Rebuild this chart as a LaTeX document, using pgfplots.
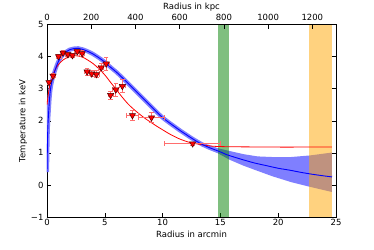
\documentclass[border=0pt]{standalone}
\usepackage{pgfplots}
\pgfplotsset{compat=1.18}
\usepackage{pgfplotstable}
\usepackage{fontspec}
\setmainfont{DejaVu Sans}
\definecolor{bandblue}{RGB}{127,127,255}
\definecolor{errred}{RGB}{255,110,110}
\definecolor{mgreen}{RGB}{0,128,0}
\definecolor{morange}{RGB}{255,165,0}
\pgfplotstableread{
x y
0.17 3.20
0.52 3.40
1.00 4.01
1.39 4.12
1.81 4.07
2.20 4.04
2.62 4.16
3.04 4.10
3.47 3.53
3.87 3.47
4.28 3.45
4.70 3.66
5.12 3.78
5.50 2.80
5.95 2.97
6.52 3.08
7.39 2.17
9.04 2.10
12.60 1.29
}\datatable
% horizontal error bars: x from (x - err) to (x + err)
\pgfplotstableread{
x y
0.02 3.20
0.32 3.20
nan nan
0.35 3.40
0.69 3.40
nan nan
0.78 4.01
1.22 4.01
nan nan
1.19 4.12
1.59 4.12
nan nan
1.61 4.07
2.01 4.07
nan nan
2.00 4.04
2.40 4.04
nan nan
2.40 4.16
2.84 4.16
nan nan
2.82 4.10
3.26 4.10
nan nan
3.25 3.53
3.69 3.53
nan nan
3.65 3.47
4.09 3.47
nan nan
4.06 3.45
4.50 3.45
nan nan
4.48 3.66
4.92 3.66
nan nan
4.87 3.78
5.37 3.78
nan nan
5.28 2.80
5.72 2.80
nan nan
5.70 2.97
6.20 2.97
nan nan
6.27 3.08
6.77 3.08
nan nan
6.89 2.17
7.89 2.17
nan nan
7.88 2.10
10.19 2.10
nan nan
10.13 1.29
15.04 1.29
}\xerr
% vertical error bars: y from (y - err) to (y + err)
\pgfplotstableread{
x y
0.17 3.13
0.17 3.27
nan nan
0.52 3.33
0.52 3.47
nan nan
1.00 3.95
1.00 4.07
nan nan
1.39 4.06
1.39 4.18
nan nan
1.81 4.01
1.81 4.13
nan nan
2.20 3.97
2.20 4.11
nan nan
2.62 4.09
2.62 4.23
nan nan
3.04 4.02
3.04 4.18
nan nan
3.47 3.43
3.47 3.63
nan nan
3.87 3.37
3.87 3.57
nan nan
4.28 3.34
4.28 3.56
nan nan
4.70 3.54
4.70 3.78
nan nan
5.12 3.58
5.12 3.98
nan nan
5.50 2.68
5.50 2.92
nan nan
5.95 2.76
5.95 3.18
nan nan
6.52 2.88
6.52 3.28
nan nan
7.39 2.01
7.39 2.33
nan nan
9.04 1.94
9.04 2.26
nan nan
12.60 1.24
12.60 1.34
}\yerr
\pgfplotstableread{
x y
0.00 2.50
0.10 2.80
0.25 3.12
0.50 3.42
0.75 3.62
1.00 3.76
1.40 3.90
1.80 3.98
2.25 4.03
2.70 4.02
3.10 3.98
3.50 3.90
4.00 3.78
4.50 3.62
5.00 3.43
5.50 3.20
6.00 2.97
6.50 2.74
7.00 2.53
7.50 2.36
8.00 2.21
8.50 2.07
9.00 1.95
9.50 1.83
10.00 1.72
10.70 1.57
11.50 1.43
12.40 1.32
13.30 1.26
14.00 1.22
14.70 1.20
16.00 1.19
18.00 1.185
20.00 1.18
22.00 1.18
24.65 1.18
}\redfit
\pgfplotstableread{
x y
0.00 0.40
0.05 1.50
0.10 2.00
0.23 2.74
0.35 3.10
0.52 3.37
0.75 3.63
0.96 3.83
1.20 3.98
1.39 4.07
1.70 4.16
1.97 4.22
2.30 4.25
2.70 4.26
3.05 4.23
3.43 4.18
3.90 4.10
4.30 4.01
4.75 3.90
5.17 3.78
5.50 3.67
6.00 3.52
6.50 3.35
7.00 3.17
7.50 2.99
8.00 2.81
8.50 2.63
9.00 2.45
9.50 2.27
10.00 2.10
10.50 1.96
11.00 1.83
11.50 1.70
12.00 1.58
12.50 1.46
13.00 1.35
13.50 1.25
14.00 1.17
14.50 1.10
15.00 1.03
15.50 0.95
16.00 0.89
17.00 0.78
18.00 0.68
19.00 0.60
20.00 0.52
21.00 0.46
22.00 0.39
23.00 0.33
24.00 0.28
24.65 0.25
}\bluefit
\begin{document}
\begin{tikzpicture}
\useasboundingbox (0,0) rectangle (374pt,249pt);
\begin{axis}[
  at={(47pt,32pt)}, anchor=south west,
  scale only axis, width=289pt, height=192.4pt,
  xmin=0, xmax=25, ymin=-1, ymax=5,
  xtick={0,5,10,15,20,25}, ytick={-1,0,1,2,3,4,5},
  yticklabels={−1,0,1,2,3,4,5},
  xtick pos=bottom, ytick pos=both,
  tick align=inside, major tick length=4pt,
  minor tick num=0,
  unbounded coords=jump,
  axis line style={black, line width=0.8pt},
  every tick/.style={black, line width=0.6pt},
  tick label style={font=\fontsize{8.5}{10}\selectfont},
  label style={font=\fontsize{8.5}{10}\selectfont},
  /pgf/number format/assume math mode=true,
  xlabel={Radius in arcmin}, ylabel={Temperature in keV},
  xticklabel style={yshift=1pt},
  xlabel style={yshift=2pt},
  ylabel style={yshift=-3pt},
]
% blue uncertainty band
\addplot[bandblue, line width=4.2pt, smooth, forget plot] table[x=x,y=y] {\bluefit};
\addplot[fill=bandblue, draw=none, forget plot] coordinates {
 (13.9,1.26) (14.73,1.15) (15.77,1.06) (17.0,0.96) (18.2,0.89) (19.5,0.87) (21.1,0.87) (22.76,0.92) (24.65,1.01)
 (24.65,-0.22) (22.76,-0.06) (21.1,0.09) (19.5,0.27) (18.2,0.44) (17.0,0.60) (15.77,0.79) (14.73,1.00) (13.9,1.12)
} -- cycle;
% vertical bands
\addplot[fill=mgreen, fill opacity=0.5, draw=none, forget plot] coordinates {(14.75,-1) (15.75,-1) (15.75,5) (14.75,5)} -- cycle;
\addplot[fill=morange, fill opacity=0.5, draw=none, forget plot] coordinates {(22.7,-1) (24.65,-1) (24.65,5) (22.7,5)} -- cycle;
% fits
\addplot[red, line width=0.8pt, smooth, forget plot] table[x=x,y=y] {\redfit};
\addplot[blue, line width=0.9pt, smooth, forget plot] table[x=x,y=y] {\bluefit};
% error bars
\addplot[errred, line width=0.8pt, mark=|, mark size=2.2pt, mark options={solid, line width=0.8pt, errred}] table[x=x,y=y] {\xerr};
\addplot[errred, line width=0.8pt, mark=-, mark size=2.2pt, mark options={solid, line width=0.8pt, errred}] table[x=x,y=y] {\yerr};
% markers
\addplot[only marks, mark=triangle*, mark size=3.6pt,
  mark options={rotate=180, fill=red, draw=black!70!red, line width=0.5pt}]
  table[x=x, y=y] {\datatable};
\end{axis}
\begin{axis}[
  at={(47pt,32pt)}, anchor=south west,
  scale only axis, width=289pt, height=192.4pt,
  xmin=0, xmax=1307, ymin=-1, ymax=5,
  axis x line*=top, axis y line=none,
  xtick={0,200,400,600,800,1000,1200},
  tick align=inside, major tick length=4pt,
  minor tick num=0,
  axis line style={black, line width=0.8pt},
  every tick/.style={black, line width=0.6pt},
  tick label style={font=\fontsize{8.5}{10}\selectfont},
  label style={font=\fontsize{8.5}{10}\selectfont},
  /pgf/number format/assume math mode=true,
  /pgf/number format/set thousands separator={},
  xlabel={Radius in kpc},
  xlabel style={yshift=-3pt},
]
\addplot[draw=none] coordinates {(0,0)};
\end{axis}
\end{tikzpicture}
\end{document}
